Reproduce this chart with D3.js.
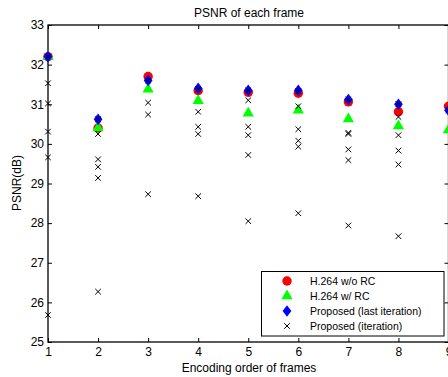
<!DOCTYPE html>
<html>
<head>
<meta charset="utf-8">
<script src="https://cdn.jsdelivr.net/npm/d3@7"></script>
<style>
body{margin:0;background:#fff;}
text{font-family:"Liberation Sans",Arial,sans-serif;fill:#000;}
</style>
</head>
<body>
<svg id="chart" width="448" height="377"></svg>
<script>
// frames on x axis
var frames=[1,2,3,4,5,6,7,8,9];
var yTicks=[25,26,27,28,29,30,31,32,33];
// PSNR values
var woRC=[32.2,30.4,31.7,31.34,31.3,31.28,31.06,30.81,30.95];
var wRC=[32.2,30.4,31.38,31.09,30.77,30.85,30.63,30.45,30.35];
var lastIter=[32.2,30.62,31.6,31.4,31.35,31.35,31.12,31.0,30.85];
var iterations=[
	[32.2,31.53,31.02,30.31,29.66,25.68],
	[30.62,30.25,29.61,29.42,29.14,26.27],
	[31.6,31.04,30.74,28.73],
	[31.38,30.81,30.43,30.25,28.68],
	[31.35,31.1,30.43,30.22,29.72,28.05],
	[31.33,30.95,30.37,30.08,29.93,28.25],
	[31.12,30.28,30.25,29.86,29.59,27.94],
	[31.0,30.68,30.22,29.83,29.48,27.67],
	[30.85]
];
var legendNames=["H.264 w/o RC","H.264 w/ RC","Proposed (last iteration)","Proposed (iteration)"];

var L=48,R=448.5,T=25,B=342;
var svg=d3.select("#chart");
var x=d3.scaleLinear().domain([1,9]).range([L,R]);
var y=d3.scaleLinear().domain([25,33]).range([B,T]);

// frame box
svg.append("rect").attr("x",L).attr("y",T).attr("width",R-L).attr("height",B-T)
	.attr("fill","none").attr("stroke","#000").attr("stroke-width",1.3);

// axes with inward ticks
var tl=4;
svg.append("g").attr("transform","translate(0,"+B+")")
	.call(d3.axisBottom(x).tickValues(frames).tickSize(-tl).tickPadding(5).tickFormat(d3.format("d")));
svg.append("g").attr("transform","translate(0,"+T+")")
	.call(d3.axisTop(x).tickValues(frames).tickSize(-tl).tickFormat(""));
svg.append("g").attr("transform","translate("+L+",0)")
	.call(d3.axisLeft(y).tickValues(yTicks).tickSize(-tl).tickPadding(4).tickFormat(d3.format("d")));
svg.append("g").attr("transform","translate("+R+",0)")
	.call(d3.axisRight(y).tickValues(yTicks).tickSize(-tl).tickFormat(""));
svg.selectAll(".domain").remove();
svg.selectAll(".tick line").attr("stroke","#000");
svg.selectAll(".tick text").style("font-size","12px").style("font-family","Liberation Sans, Arial, sans-serif").attr("fill","#000");

// titles
svg.append("text").attr("x",249).attr("y",17).attr("text-anchor","middle").style("font-size","12px").text("PSNR of each frame");
svg.append("text").attr("x",249).attr("y",372).attr("text-anchor","middle").style("font-size","12px").text("Encoding order of frames");
svg.append("text").attr("transform","translate(21,183) rotate(-90)").attr("text-anchor","middle").style("font-size","12px").text("PSNR(dB)");

var circ=d3.symbol().type(d3.symbolCircle).size(70);
var tri=d3.symbol().type(d3.symbolTriangle).size(55);
var dia=d3.symbol().type(d3.symbolDiamond).size(55);
var diaScale=" scale(1.1,0.85)";
function cross(g,cx,cy){
	var s=2.8;
	g.append("path").attr("d","M"+(cx-s)+","+(cy-s)+"L"+(cx+s)+","+(cy+s)+"M"+(cx-s)+","+(cy+s)+"L"+(cx+s)+","+(cy-s))
		.attr("stroke","#000").attr("stroke-width",1).attr("fill","none");
}

var pts=svg.append("g");
pts.selectAll(".red").data(woRC).enter().append("path").attr("class","red").attr("d",circ)
	.attr("transform",function(d,i){return "translate("+x(frames[i])+","+y(d)+")";}).attr("fill","#ff0000");
pts.selectAll(".green").data(wRC).enter().append("path").attr("class","green").attr("d",tri)
	.attr("transform",function(d,i){return "translate("+x(frames[i])+","+y(d)+")";}).attr("fill","#00ff00");
pts.selectAll(".blue").data(lastIter).enter().append("path").attr("class","blue").attr("d",dia)
	.attr("transform",function(d,i){return "translate("+x(frames[i])+","+y(d)+")"+diaScale;}).attr("fill","#0000ff");
for(var i=0;i<iterations.length;i++){
	for(var j=0;j<iterations[i].length;j++){
		cross(pts,x(frames[i]),y(iterations[i][j]));
	}
}

// legend
var lg=svg.append("g");
lg.append("rect").attr("x",261.5).attr("y",271.5).attr("width",182.5).attr("height",64.5)
	.attr("fill","#fff").attr("stroke","#000").attr("stroke-width",1);
var ly=[281,296,311,326],mx=287;
lg.append("path").attr("d",circ).attr("transform","translate("+mx+","+ly[0]+")").attr("fill","#ff0000");
lg.append("path").attr("d",tri).attr("transform","translate("+mx+","+ly[1]+")").attr("fill","#00ff00");
lg.append("path").attr("d",dia).attr("transform","translate("+mx+","+ly[2]+")"+diaScale).attr("fill","#0000ff");
cross(lg,mx,ly[3]);
legendNames.forEach(function(n,k){
	lg.append("text").attr("x",310).attr("y",ly[k]+4).style("font-size","10.5px").text(n);
});
</script>
</body>
</html>
